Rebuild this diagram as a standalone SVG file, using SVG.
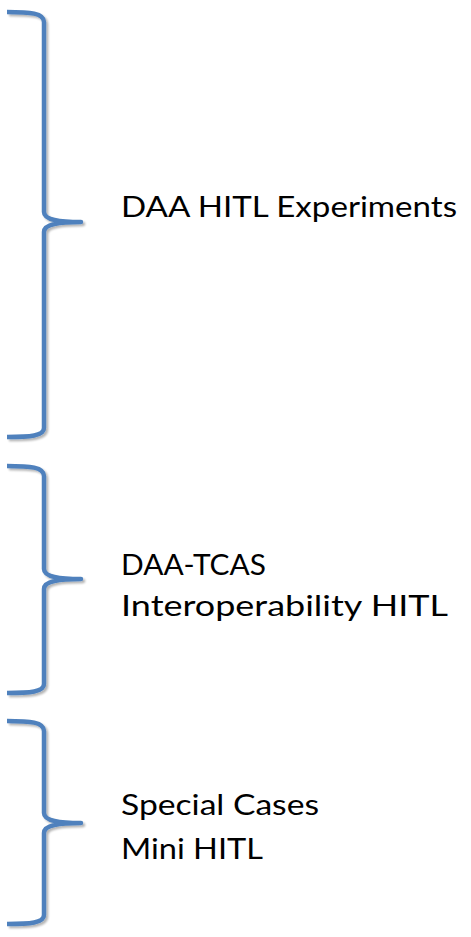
<svg xmlns="http://www.w3.org/2000/svg" width="471" height="937" viewBox="0 0 471 937">
  <defs>
    <filter id="shadow" x="-20%" y="-5%" width="140%" height="110%">
      <feGaussianBlur in="SourceAlpha" stdDeviation="1.2"/>
      <feOffset dx="1.5" dy="2" result="b"/>
      <feComponentTransfer><feFuncA type="linear" slope="0.3"/></feComponentTransfer>
      <feMerge><feMergeNode/><feMergeNode in="SourceGraphic"/></feMerge>
    </filter>
  </defs>
  <style>
    .brace { fill: none; stroke: #4F81BD; stroke-width: 4.5; stroke-linecap: butt; stroke-linejoin: round; filter: url(#shadow); }
    .label { font-family: Lato, "Open Sans", "Liberation Sans", sans-serif; font-size: 29.5px; fill: #000000; }
  </style>
  <rect width="471" height="937" fill="#ffffff"/>

  <g id="connectors">
    <!-- right curly braces grouping each experiment -->
    <path class="brace" d="M7,12 C30,12 44,13 44,22 L44,212 C44,220 60,222 81,222 C60,222 44,224 44,232 L44,428 C44,436 30,437 7,437"/>
    <path class="brace" d="M7,466 C30,466 44,467 44,476 L44,569 C44,577 60,579 81,579 C60,579 44,581 44,589 L44,684 C44,692 30,693 7,693"/>
    <path class="brace" d="M7,721 C30,721 44,722 44,731 L44,813 C44,821 60,823 81,823 C60,823 44,825 44,833 L44,915 C44,923 30,924 7,924"/>
  </g>

  <g id="daa-hitl">
    <text class="label" x="121" y="217" textLength="336" lengthAdjust="spacingAndGlyphs">DAA HITL Experiments</text>
  </g>
  <g id="daa-tcas">
    <text class="label" x="121" y="575" textLength="145" lengthAdjust="spacingAndGlyphs">DAA-TCAS</text>
    <text class="label" x="121" y="616" textLength="327" lengthAdjust="spacingAndGlyphs">Interoperability HITL</text>
  </g>
  <g id="special-cases">
    <text class="label" x="121" y="815" textLength="198" lengthAdjust="spacingAndGlyphs">Special Cases</text>
    <text class="label" x="121" y="859" textLength="142" lengthAdjust="spacingAndGlyphs">Mini HITL</text>
  </g>
</svg>
